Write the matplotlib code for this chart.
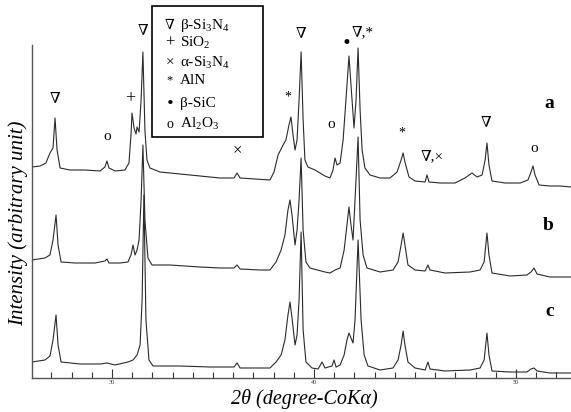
import matplotlib
matplotlib.use("Agg")
import matplotlib.pyplot as plt
from matplotlib.patches import Rectangle

plt.rcParams['font.family'] = ['Liberation Serif', 'DejaVu Serif']
plt.rcParams['mathtext.fontset'] = 'custom'
plt.rcParams['mathtext.rm'] = 'Liberation Serif'
plt.rcParams['mathtext.it'] = 'Liberation Serif:italic'

# ---- data (2theta in degrees, intensity in arbitrary units, offsets included) ----
tt_a = [26.04, 26.44, 26.73, 26.93, 27.08, 27.18, 27.28, 27.43, 27.92, 28.66, 29.41, 29.65, 29.75, 29.85,
        30.15, 30.64, 30.84, 30.94, 30.99, 31.09, 31.19, 31.24, 31.34, 31.44, 31.53, 31.63, 31.73, 31.88,
        32.38, 33.37, 34.36, 35.35, 36.04, 36.19, 36.34, 37.08, 37.82, 38.02, 38.22, 38.47, 38.61, 38.76,
        38.86, 38.96, 39.06, 39.16, 39.26, 39.36, 39.46, 39.55, 39.70, 40.05, 40.54, 40.79, 40.94, 41.04,
        41.14, 41.29, 41.44, 41.58, 41.73, 41.83, 41.98, 42.08, 42.18, 42.28, 42.38, 42.52, 42.77, 43.27,
        43.76, 44.11, 44.31, 44.41, 44.50, 44.70, 45.00, 45.50, 45.59, 45.69, 46.24, 46.98, 47.47, 47.82,
        48.07, 48.32, 48.47, 48.56, 48.66, 48.81, 49.46, 50.20, 50.59, 50.74, 50.84, 50.94, 51.14, 51.68,
        52.18, 52.72]
I_a = [211, 212, 215, 225, 230, 260, 228, 210, 208, 208, 207, 211, 217, 210,
       207, 208, 215, 243, 265, 250, 244, 251, 246, 278, 326, 248, 218, 210,
       206, 204, 202, 200, 200, 205, 200, 199, 198, 206, 223, 233, 238, 253,
       261, 243, 228, 238, 278, 326, 258, 218, 211, 208, 202, 200, 208, 220,
       213, 215, 238, 278, 322, 293, 250, 278, 330, 268, 228, 210, 203, 200,
       200, 206, 218, 225, 216, 201, 197, 196, 203, 196, 195, 195, 200, 205,
       201, 203, 218, 235, 213, 197, 195, 195, 198, 206, 212, 203, 193, 192,
       192, 191]

tt_b = [26.04, 26.68, 26.93, 27.08, 27.23, 27.33, 27.48, 28.17, 29.16, 29.65, 29.75, 29.85, 30.40, 30.79,
        30.94, 31.04, 31.14, 31.24, 31.34, 31.44, 31.53, 31.63, 31.78, 31.98, 32.87, 34.36, 35.35, 36.04,
        36.19, 36.34, 37.33, 37.82, 38.12, 38.37, 38.56, 38.71, 38.81, 38.91, 39.06, 39.16, 39.26, 39.36,
        39.46, 39.60, 39.80, 40.54, 40.79, 41.04, 41.29, 41.49, 41.63, 41.73, 41.83, 41.93, 42.03, 42.18,
        42.28, 42.43, 42.62, 43.27, 43.91, 44.16, 44.31, 44.41, 44.50, 44.65, 45.00, 45.50, 45.64, 45.74,
        46.48, 47.72, 48.22, 48.42, 48.56, 48.66, 48.81, 49.70, 50.54, 50.74, 50.89, 51.04, 51.68, 52.72]
I_b = [118, 120, 123, 138, 163, 133, 116, 115, 115, 117, 119, 115, 115, 116,
       123, 133, 123, 128, 138, 178, 233, 158, 120, 113, 113, 111, 110, 110,
       113, 109, 108, 108, 116, 128, 143, 168, 178, 163, 133, 148, 178, 220,
       148, 116, 110, 106, 105, 108, 110, 128, 153, 171, 153, 138, 178, 241,
       158, 123, 110, 106, 108, 116, 133, 145, 133, 113, 108, 107, 113, 108,
       105, 106, 108, 116, 145, 123, 105, 102, 103, 106, 110, 104, 101, 101]

tt_c = [26.04, 26.68, 26.93, 27.08, 27.23, 27.33, 27.48, 28.42, 29.41, 29.75, 30.15, 30.79, 31.04, 31.24,
        31.39, 31.49, 31.58, 31.68, 31.83, 32.03, 33.37, 34.85, 36.04, 36.19, 36.34, 37.33, 37.82, 38.12,
        38.37, 38.56, 38.71, 38.81, 38.91, 39.06, 39.16, 39.26, 39.36, 39.46, 39.60, 39.90, 40.20, 40.40,
        40.54, 40.89, 40.99, 41.09, 41.29, 41.49, 41.63, 41.73, 41.83, 41.93, 42.03, 42.18, 42.33, 42.48,
        42.67, 43.27, 43.91, 44.16, 44.31, 44.41, 44.50, 44.65, 45.00, 45.50, 45.64, 45.74, 46.48, 47.72,
        48.22, 48.42, 48.56, 48.66, 48.81, 49.70, 50.54, 50.74, 50.89, 51.04, 51.68, 52.72]
I_c = [16, 18, 22, 38, 63, 33, 16, 14, 14, 15, 13, 16, 18, 23,
       33, 78, 183, 58, 18, 12, 12, 11, 11, 15, 10, 10, 10, 16,
       23, 38, 63, 76, 60, 33, 43, 78, 146, 48, 16, 10, 9, 16,
       10, 12, 18, 11, 13, 23, 38, 45, 40, 35, 58, 138, 58, 23,
       12, 8, 10, 18, 33, 47, 33, 16, 10, 8, 16, 9, 7, 8,
       10, 18, 45, 23, 7, 6, 6, 9, 10, 7, 5, 5]

# peak labels: (text, 2theta, intensity)
peak_labels = [("∇", 27.18, 280), ("o", 29.75, 242), ("+", 30.89, 279), ("∇", 31.53, 348),
               ("×", 36.19, 228), ("*", 38.71, 281), ("∇", 39.36, 345), ("o", 40.84, 254),
               ("•", 41.58, 334), ("∇,*", 42.43, 345), ("*", 44.36, 245), ("∇,×", 45.84, 221),
               ("∇", 48.51, 256), ("o", 50.89, 230)]
trace_names = [("a", 51.63, 275), ("b", 51.58, 153), ("c", 51.68, 66)]

legend_symbols = ["∇", "+", "×", "*", "•", "o"]
legend_texts = [r"β-Si$_3$N$_4$", r"SiO$_2$", r"α-Si$_3$N$_4$", "AlN", "β-SiC", r"Al$_2$O$_3$"]

x_ticks = [30, 40, 50]

SYM_SIZE = {"*": 10, "+": 13, "×": 12, "•": 12}

# ---- figure ----
fig = plt.figure(figsize=(5.71, 4.12), dpi=100)
ax = fig.add_axes([32 / 571, 34 / 412, 539 / 571, 333 / 412])

for tt, I in [(tt_a, I_a), (tt_b, I_b), (tt_c, I_c)]:
    ax.plot(tt, I, color='#2a2a2a', lw=0.8)

ax.set_xlim(26.04, 52.72)
ax.set_ylim(0, 333)
for s in ['top', 'right']:
    ax.spines[s].set_visible(False)
for s in ['left', 'bottom']:
    ax.spines[s].set_linewidth(1.0)
    ax.spines[s].set_color('#555555')
ax.set_yticks([])
ax.set_xticks(x_ticks)
ax.set_xticks(range(27, 53), minor=True)
ax.tick_params(axis='x', which='major', direction='in', length=6.5, width=0.8,
               labelsize=4.5, pad=1.5, color='#333333', labelcolor='#333333')
ax.tick_params(axis='x', which='minor', direction='in', length=4.5, width=0.8, color='#333333')

for txt, x, y in peak_labels:
    fs = SYM_SIZE.get(txt, 11)
    ax.text(x, y, txt, ha='center', va='center', fontsize=fs, clip_on=False,
            family=['DejaVu Serif'] if txt in ('∇', '•') else ['Liberation Serif', 'DejaVu Serif'])

for txt, x, y in trace_names:
    ax.text(x, y, txt, ha='center', va='center', fontsize=14, fontweight='bold')

# legend box
fig.patches.append(Rectangle((152 / 571, 1 - 137 / 412), 111 / 571, 131 / 412,
                             transform=fig.transFigure, facecolor='white',
                             edgecolor='black', lw=1.2, zorder=10))
leg_y = [25, 43, 63, 80, 104, 124]
for sym, txt, yy in zip(legend_symbols, legend_texts, leg_y):
    fig.text(170 / 571, 1 - yy / 412, sym, ha='center', va='center',
             fontsize=SYM_SIZE.get(sym, 11) - 1, zorder=11,
             family=['DejaVu Serif'] if sym in ('∇', '•') else ['Liberation Serif', 'DejaVu Serif'])
    fig.text(180 / 571, 1 - yy / 412, txt, ha='left', va='center', fontsize=11, zorder=11)

fig.text(18 / 571, 1 - 223 / 412, "Intensity (arbitrary unit)", rotation=90,
         ha='center', va='center', fontsize=15, style='italic')
fig.text(304 / 571, 1 - 399 / 412, "2θ (degree-CoKα)", ha='center', va='center',
         fontsize=14.5, style='italic')

fig.savefig("out.png", dpi=100)
